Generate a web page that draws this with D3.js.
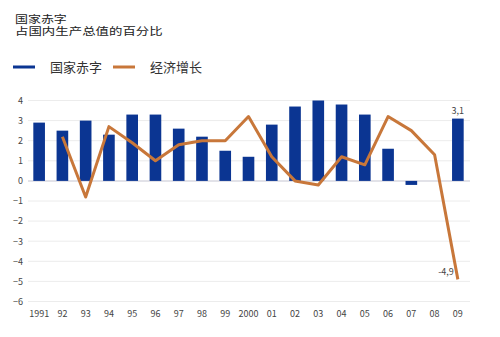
<!DOCTYPE html>
<html><head><meta charset="utf-8">
<script src="https://cdn.jsdelivr.net/npm/d3@7"></script>
<style>body{margin:0;background:#fff}svg{display:block}</style>
</head><body>
<svg id="c" width="500" height="337"></svg>
<script>
const years = ["1991","92","93","94","95","96","97","98","99","2000","01","02","03","04","05","06","07","08","09"];
const deficit = [2.9,2.5,3.0,2.3,3.3,3.3,2.6,2.2,1.5,1.2,2.8,3.7,4.0,3.8,3.3,1.6,-0.2,0,3.1];
const growth = [null,2.2,-0.8,2.7,1.9,1.0,1.8,2.0,2.0,3.2,1.2,0.0,-0.2,1.2,0.8,3.2,2.5,1.3,-4.9];
const yTicks = [4,3,2,1,0,-1,-2,-3,-4,-5,-6];
const titleLines = ["国家赤字","占国内生产总值的百分比"];
const legendNames = ["国家赤字","经济增长"];
const annotations = [{i:18, s:"deficit", text:"3,1"},{i:18, s:"growth", text:"-4,9"}];

const blue = "#0b3592", orange = "#c8773a";
const font = "'Noto Sans CJK SC', 'Noto Sans', sans-serif";
const titleFont = "'Liberation Sans', 'Noto Sans CJK SC', sans-serif";
const svg = d3.select("#c");

const x = d3.scaleBand().domain(years).range([27.5,469.5]).paddingInner(0.5).paddingOuter(0.25);
const y = d3.scaleLinear().domain([-6,4]).range([301.5,100.5]);

// title
svg.append("g").selectAll("text").data(titleLines).join("text")
  .attr("x",15).attr("y",(d,i)=>22.5+i*12.5)
  .attr("font-family",titleFont).attr("font-size",10.5).attr("fill","#222")
  .attr("textLength",d=>d.length*13.7-3).attr("lengthAdjust","spacingAndGlyphs").text(d=>d);

// legend
const lg = svg.append("g");
[[13,blue],[113,orange]].forEach(([lx,c],i)=>{
  lg.append("line").attr("x1",lx).attr("x2",lx+22).attr("y1",67).attr("y2",67)
    .attr("stroke",c).attr("stroke-width",3);
  lg.append("text").attr("x",lx+37).attr("y",71.5).attr("font-family",font)
    .attr("font-size",13).attr("fill","#333").text(legendNames[i]);
});

// grid
svg.append("g").selectAll("line").data(yTicks).join("line")
  .attr("x1",28).attr("x2",470).attr("y1",d=>y(d)).attr("y2",d=>y(d))
  .attr("stroke",d=>d===0?"#d8d8e0":"#ececec").attr("stroke-width",d=>d===0?1.5:1);

// y axis labels
const ya = svg.append("g").attr("transform","translate(23,0)")
  .call(d3.axisLeft(y).tickValues(yTicks).tickSize(0).tickPadding(0).tickFormat(d3.format("d")));
ya.select(".domain").remove();
ya.selectAll("text").attr("font-family",font).attr("font-size",9).attr("fill","#444");

// x axis labels
const xa = svg.append("g").attr("transform","translate(0,311)")
  .call(d3.axisBottom(x).tickSize(0).tickPadding(0));
xa.select(".domain").remove();
xa.selectAll("text").attr("font-family",font).attr("font-size",9).attr("fill","#444");

// bars
svg.append("g").selectAll("rect").data(deficit.map((v,i)=>({v,k:years[i]}))).join("rect")
  .attr("x",d=>x(d.k)).attr("width",x.bandwidth())
  .attr("y",d=>y(Math.max(0,d.v))).attr("height",d=>Math.abs(y(d.v)-y(0)))
  .attr("fill",blue);

// line
const pts = growth.map((v,i)=>({v,k:years[i]}));
svg.append("path").datum(pts)
  .attr("d",d3.line().defined(d=>d.v!==null).x(d=>x(d.k)+x.bandwidth()/2).y(d=>y(d.v)))
  .attr("fill","none").attr("stroke",orange).attr("stroke-width",3).attr("stroke-linejoin","round");

// annotations
annotations.forEach(a=>{
  const cx = x(years[a.i])+x.bandwidth()/2;
  if(a.s==="deficit"){
    svg.append("text").attr("x",cx).attr("y",y(deficit[a.i])-5).attr("text-anchor","middle")
      .attr("font-family",font).attr("font-size",9).attr("fill","#444").text(a.text);
  } else {
    svg.append("text").attr("x",cx-4).attr("y",y(growth[a.i])-4).attr("text-anchor","end")
      .attr("font-family",font).attr("font-size",9).attr("fill","#444").text(a.text);
  }
});
</script>
</body></html>
